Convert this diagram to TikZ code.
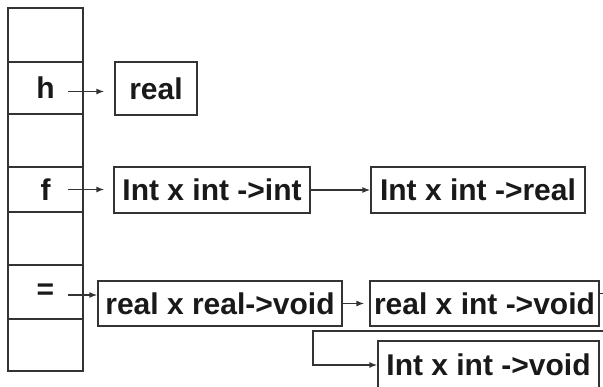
\documentclass[tikz,border=0pt]{standalone}
\usepackage{fontspec}
\setmainfont{Liberation Sans}
\usetikzlibrary{arrows.meta}

\begin{document}
\begin{tikzpicture}[x=1pt, y=-1pt,
  every node/.style={font=\fontsize{30}{36}\selectfont\bfseries, text=black!90},
  cell/.style={draw=black!80, line width=1.3pt, minimum width=75pt, inner sep=0pt},
  sig/.style={draw=black!80, line width=1.3pt, inner sep=0pt, minimum height=45pt},
  ptr/.style={-{Latex[length=8pt,width=6pt]}, line width=1.3pt, draw=black!80}]
  \useasboundingbox (0,0) rectangle (603,386);
  \clip (0,0) rectangle (603,386);
  \fill[white] (0,0) rectangle (603,386);

  % symbol table column
  \foreach \n/\t/\b/\l in {c1/8/62/{}, c2/62/114/h, c3/114/167/{}, c4/167/212/f,
                           c5/212/265/{}, c6/265/319/{=}, c7/319/371/{}}
    \node[cell, minimum height={\b-\t}] (\n) at (45.5,{(\t+\b)/2}) {\l};

  % type boxes
  \node[sig, minimum width=82pt, minimum height=53pt] (real) at (156,88.5) {real};
  \node[sig, minimum width=196pt, minimum height=46pt] (iii) at (212,190) {Int x int ->int};
  \node[sig, minimum width=214pt, minimum height=46pt] (iir) at (478,190) {Int x int ->real};
  \node[sig, minimum width=244pt] (rrv) at (220,303.5) {real x real->void};
  \node[sig, minimum width=229pt] (riv) at (484.5,303.5) {real x int ->void};
  \node[sig, minimum width=221pt, minimum height=48pt] (iiv) at (488.5,365) {Int x int ->void};

  % pointers
  \draw[ptr, shorten >=10pt] ([xshift=22.5pt,yshift=-3.5pt]c2.center) -- ([yshift=-3.5pt]c2.center -| real.west);
  \draw[ptr, shorten >=9pt] ([xshift=22.5pt]c4.center) -- (c4.center -| iii.west);
  \draw[ptr] ([xshift=22.5pt,yshift=-3pt]c6.center) -- ([yshift=-3pt]c6.center -| rrv.west);
  \draw[ptr] (iii) -- (iir);
  \draw[ptr, shorten >=5pt] (rrv) -- (riv);
  \coordinate (back) at (313,331);
  \draw[ptr] ([yshift=10pt]riv.east) -- ++(15,0) |- (back) |- (iiv.west);
\end{tikzpicture}
\end{document}
